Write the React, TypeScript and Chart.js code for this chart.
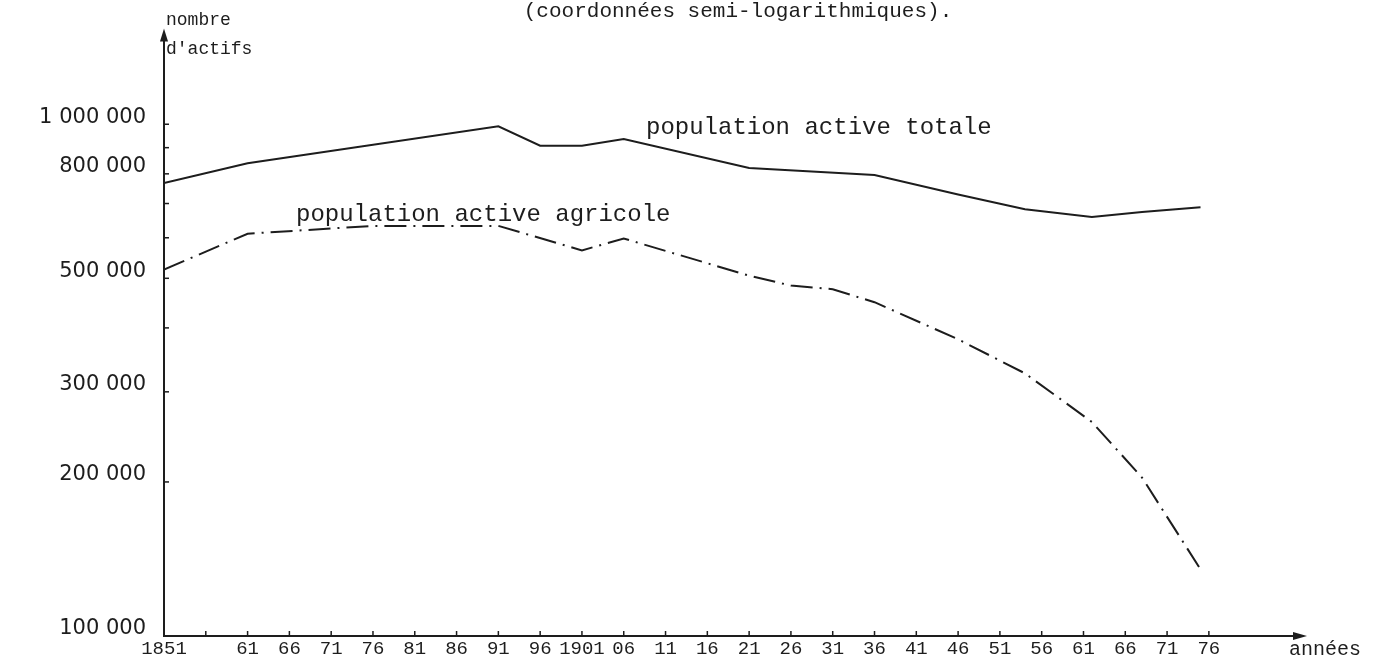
import React, { useEffect, useRef } from 'react';
import { Chart, registerables } from 'chart.js';

Chart.register(...registerables);

// ---- data ----
const totalYears = [1851, 1861, 1891, 1896, 1901, 1906, 1921, 1936, 1946, 1954, 1962, 1968, 1975];
const totalValues = [768000, 839000, 991000, 908000, 908000, 936000, 821000, 796000, 729000, 682000, 659000, 674000, 688000];

const agriYears = [1851, 1861, 1876, 1891, 1901, 1906, 1921, 1926, 1931, 1936, 1946, 1954, 1962, 1968, 1975];
const agriValues = [520000, 611000, 633000, 633000, 567000, 598000, 506000, 484000, 476000, 449000, 380000, 326000, 262000, 204000, 135000];

const xTickYears = [1851, 1856, 1861, 1866, 1871, 1876, 1881, 1886, 1891, 1896, 1901, 1906, 1911, 1916, 1921, 1926, 1931, 1936, 1941, 1946, 1951, 1956, 1961, 1966, 1971, 1976];
const xTickLabels = ['1851', '', '61', '66', '71', '76', '81', '86', '91', '96', '1901', '06', '11', '16', '21', '26', '31', '36', '41', '46', '51', '56', '61', '66', '71', '76'];

const yTickValues = [100000, 200000, 300000, 500000, 800000, 1000000];
const yTickLabels = ['100 000', '200 000', '300 000', '500 000', '800 000', '1 000 000'];
const yMinorTicks = [200000, 300000, 400000, 500000, 600000, 700000, 800000, 900000, 1000000];

const titleText = '(coordonnées semi-logarithmiques).';
const yAxisTitle = ['nombre', "d'actifs"];
const xAxisTitle = 'années';
const totalLabel = 'population active totale';
const agriLabel = 'population active agricole';

const INK = '#1d1d1d';
const MONO = '"Liberation Mono", "DejaVu Sans Mono", monospace';

const decorPlugin = {
  id: 'decor',
  afterDraw(chart: any) {
    const { ctx, chartArea, scales } = chart;
    const { left, right, top, bottom } = chartArea;
    const x = scales.x;
    const y = scales.y;
    ctx.save();
    ctx.strokeStyle = INK;
    ctx.fillStyle = INK;
    ctx.lineCap = 'butt';

    // y axis with arrow
    ctx.lineWidth = 2;
    ctx.beginPath();
    ctx.moveTo(left, bottom + 1);
    ctx.lineTo(left, top + 8);
    ctx.stroke();
    ctx.beginPath();
    ctx.moveTo(left, top - 2);
    ctx.lineTo(left - 4, top + 11);
    ctx.lineTo(left + 4, top + 11);
    ctx.closePath();
    ctx.fill();

    // x axis with arrow
    ctx.beginPath();
    ctx.moveTo(left - 1, bottom);
    ctx.lineTo(right - 8, bottom);
    ctx.stroke();
    ctx.beginPath();
    ctx.moveTo(right + 2, bottom);
    ctx.lineTo(right - 12, bottom - 4);
    ctx.lineTo(right - 12, bottom + 4);
    ctx.closePath();
    ctx.fill();

    // small tick marks
    ctx.lineWidth = 1.5;
    yMinorTicks.forEach((v) => {
      const py = y.getPixelForValue(v);
      ctx.beginPath();
      ctx.moveTo(left, py);
      ctx.lineTo(left + 5, py);
      ctx.stroke();
    });
    xTickYears.slice(1).forEach((yr) => {
      const px = x.getPixelForValue(yr);
      ctx.beginPath();
      ctx.moveTo(px, bottom);
      ctx.lineTo(px, bottom - 5);
      ctx.stroke();
    });

    // texts
    ctx.textBaseline = 'alphabetic';
    ctx.textAlign = 'center';
    ctx.font = `21px ${MONO}`;
    ctx.fillText(titleText, 738, 17);

    ctx.textAlign = 'left';
    ctx.font = `18px ${MONO}`;
    ctx.fillText(yAxisTitle[0], left + 2, 25);
    ctx.fillText(yAxisTitle[1], left + 2, 54);

    ctx.font = `24px ${MONO}`;
    ctx.fillText(totalLabel, 646, 134);
    ctx.fillText(agriLabel, 296, 221);

    ctx.font = `20px ${MONO}`;
    ctx.fillText(xAxisTitle, 1289, 655);
    ctx.restore();
  },
};

export default function App() {
  const canvasRef = useRef<HTMLCanvasElement | null>(null);

  useEffect(() => {
    const canvas = canvasRef.current;
    if (!canvas) return;
    const chart = new Chart(canvas, {
      type: 'line',
      data: {
        datasets: [
          {
            label: totalLabel,
            data: totalYears.map((yr, i) => ({ x: yr, y: totalValues[i] })),
            borderColor: INK,
            borderWidth: 2,
            pointRadius: 0,
            tension: 0,
            fill: false,
          },
          {
            label: agriLabel,
            data: agriYears.map((yr, i) => ({ x: yr, y: agriValues[i] })),
            borderColor: INK,
            borderWidth: 2,
            borderDash: [22, 7, 2, 7],
            pointRadius: 0,
            tension: 0,
            fill: false,
          },
        ],
      },
      options: {
        animation: false,
        responsive: false,
        maintainAspectRatio: false,
        layout: { padding: { left: 0, right: 79, top: 22, bottom: 0 } },
        plugins: { legend: { display: false }, tooltip: { enabled: false }, title: { display: false } },
        scales: {
          x: {
            type: 'linear',
            min: 1851,
            max: 1987.5,
            grid: { display: false, drawTicks: false },
            border: { display: false },
            afterBuildTicks: (scale: any) => {
              scale.ticks = xTickYears.map((v) => ({ value: v }));
            },
            afterFit: (scale: any) => {
              scale.height = 31;
            },
            ticks: {
              autoSkip: false,
              maxRotation: 0,
              minRotation: 0,
              padding: 2,
              color: INK,
              font: { family: MONO, size: 19 },
              callback: (value: any) => {
                const i = xTickYears.indexOf(Number(value));
                return i >= 0 ? xTickLabels[i] : '';
              },
            },
          },
          y: {
            type: 'logarithmic',
            min: 100000,
            max: 1524000,
            grid: { display: false, drawTicks: false },
            border: { display: false },
            afterBuildTicks: (scale: any) => {
              scale.ticks = yTickValues.map((v) => ({ value: v }));
            },
            afterFit: (scale: any) => {
              scale.width = 164;
            },
            ticks: {
              autoSkip: false,
              padding: 18,
              labelOffset: -7,
              color: INK,
              font: { family: '"DejaVu Sans", sans-serif', size: 21 },
              callback: (value: any) => {
                const i = yTickValues.indexOf(Number(value));
                return i >= 0 ? yTickLabels[i] : '';
              },
            },
          },
        },
      },
      plugins: [decorPlugin],
    });
    return () => chart.destroy();
  }, []);

  return (
    <div style={{ position: 'absolute', left: 0, top: 0, width: 1384, height: 667, background: '#fff' }}>
      <canvas ref={canvasRef} width={1384} height={667} style={{ display: 'block' }} />
    </div>
  );
}
